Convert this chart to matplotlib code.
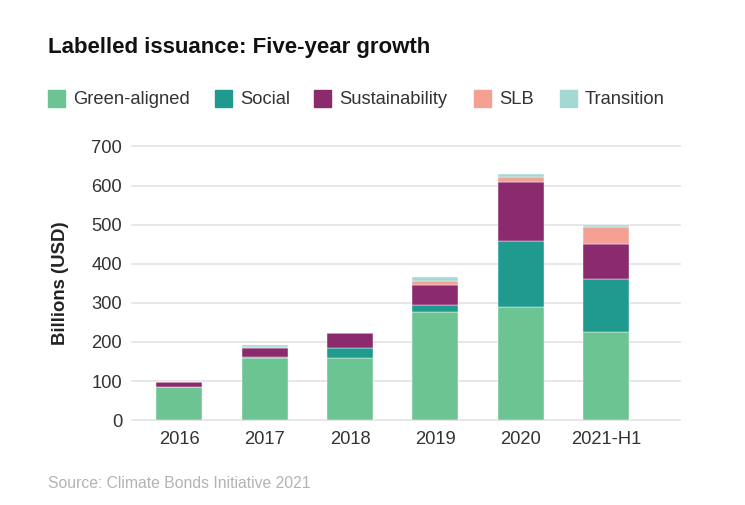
import numpy as np
import matplotlib.pyplot as plt
from matplotlib.patches import Rectangle

# Labelled issuance by theme, billions USD
years = ["2016", "2017", "2018", "2019", "2020", "2021-H1"]
green = [84, 158, 158, 277, 289, 225]
social = [1, 4, 27, 18, 170, 137]
sustainability = [13, 23, 37, 51, 149, 89]
slb = [0, 1, 0, 11, 13, 43]
transition = [0, 6, 1, 10, 9, 5]

series = [
    ("Green-aligned", green, "#6cc492"),
    ("Social", social, "#209a8f"),
    ("Sustainability", sustainability, "#8b2a6d"),
    ("SLB", slb, "#f4a095"),
    ("Transition", transition, "#a3d8d3"),
]

plt.rcParams['font.family'] = ['Liberation Sans', 'DejaVu Sans']

fig = plt.figure(figsize=(7.45, 5.05), dpi=100)
ax = fig.add_axes([0.177, 0.168, 0.736, 0.542])

x = np.arange(len(years))
bottom = np.zeros(len(years))
for name, vals, col in series:
    ax.bar(x, vals, 0.54, bottom=bottom, color=col, edgecolor="white", linewidth=0.3)
    bottom += np.array(vals)

ax.set_xlim(-0.557, 5.87)
ax.set_ylim(0, 700)
ax.set_yticks(range(0, 701, 100))
ax.set_xticks(x)
ax.set_xticklabels(years)
ax.grid(axis="y", color="#e3e3e3", linewidth=1.2, clip_on=False)
ax.set_axisbelow(True)
for s in ax.spines.values():
    s.set_visible(False)
ax.tick_params(length=0, labelsize=13.2, labelcolor="#333333")
ax.tick_params(axis="y", pad=7)
ax.tick_params(axis="x", pad=8)
ax.set_ylabel("Billions (USD)", fontsize=13.4, fontweight="bold", color="#222222", labelpad=16)

fig.text(0.064, 1 - 48 / 505, "Labelled issuance: Five-year growth", fontsize=16,
         fontweight="bold", color="#111111", va="center")

# legend row
leg_x = [48, 215, 314, 474, 560]
for (name, vals, col), lx in zip(series, leg_x):
    fig.patches.append(Rectangle((lx / 745, 1 - 107 / 505), 17 / 745, 17 / 505,
                                 transform=fig.transFigure, color=col, figure=fig))
    fig.text((lx + 25) / 745, 1 - 99 / 505, name, fontsize=13.2, color="#333333", va="center")

fig.text(0.064, 1 - 484 / 505, "Source: Climate Bonds Initiative 2021", fontsize=11.3,
         color="#b3b3b3", va="center")

plt.savefig("out.png", dpi=100)
